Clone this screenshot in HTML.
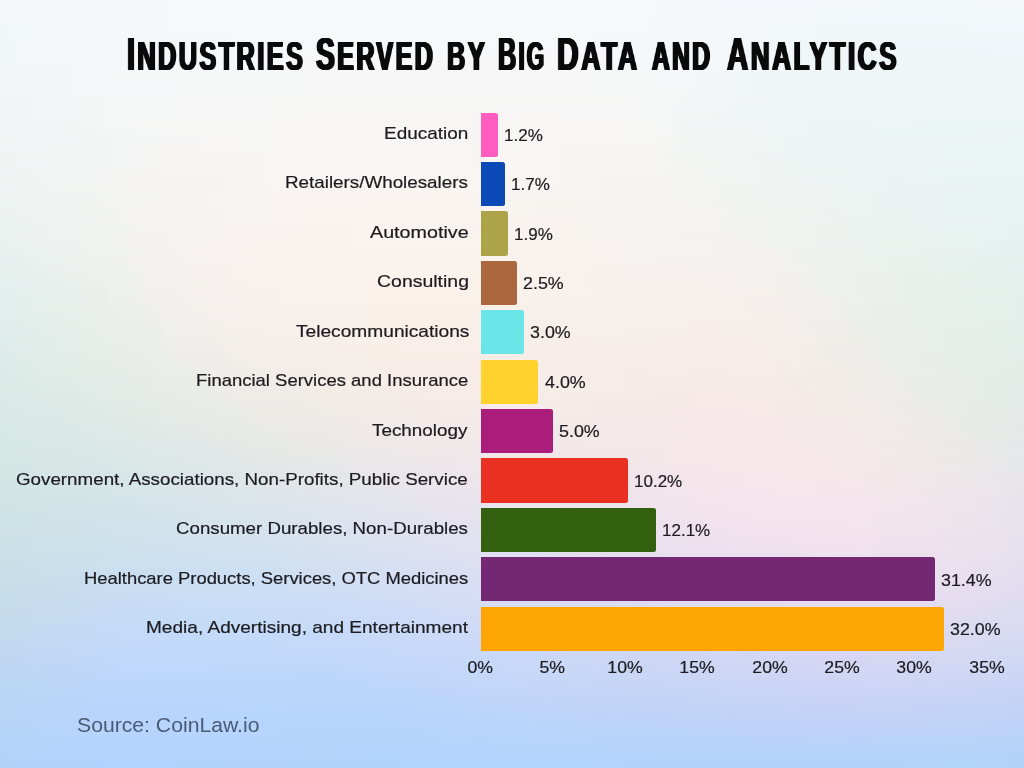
<!DOCTYPE html>
<html><head><meta charset="utf-8">
<style>
html,body{margin:0;padding:0;}
body{width:1024px;height:768px;overflow:hidden;position:relative;font-family:"Liberation Sans",sans-serif;
background:#eef0f2;
}
.bg div{position:absolute;left:0;width:1024px;height:8px;}
.tw{position:absolute;white-space:nowrap;will-change:transform;font-weight:bold;color:#0a0a0a;line-height:50px;letter-spacing:4px;transform-origin:0 0;}
.cap{font-size:46px;}
.sc{font-size:40.7px;}
.bar{position:absolute;left:480.5px;height:44.2px;border-radius:0 2.5px 2.5px 0;}
.lab{position:absolute;white-space:nowrap;will-change:transform;font-size:17px;line-height:24px;color:#1c1b20;transform-origin:0 0;-webkit-text-stroke:0.2px #1c1b20;}
.val{position:absolute;white-space:nowrap;will-change:transform;font-size:17px;line-height:24px;color:#1c1b20;transform-origin:0 0;-webkit-text-stroke:0.2px #1c1b20;}
.src{position:absolute;white-space:nowrap;will-change:transform;font-size:20.5px;line-height:28px;color:#4a5b75;transform-origin:0 0;}
</style></head><body>
<div class="bg"><div style="top:0px;background:linear-gradient(90deg,#f2f7f8 0.00%,#f4f7f9 6.25%,#f5f8fa 12.50%,#f6f8fa 18.75%,#f7f8fa 25.00%,#f7f8fb 31.25%,#f7f8fb 37.50%,#f7f8fb 43.75%,#f7f8fa 50.00%,#f7f8fb 56.25%,#f6f8fb 62.50%,#f5f8fb 68.75%,#f3f7fb 75.00%,#f3f7fa 81.25%,#f2f7fa 87.50%,#f2f7fa 93.75%,#f3f7fa 100.00%)"></div><div style="top:8px;background:linear-gradient(90deg,#f2f7f8 0.00%,#f4f7f9 6.25%,#f5f8f9 12.50%,#f6f8fa 18.75%,#f7f8fa 25.00%,#f7f8fa 31.25%,#f7f8fa 37.50%,#f7f8fa 43.75%,#f7f8fa 50.00%,#f7f8fa 56.25%,#f6f8fa 62.50%,#f5f7fa 68.75%,#f3f7fa 75.00%,#f2f7fa 81.25%,#f2f7fa 87.50%,#f2f7fa 93.75%,#f2f7fa 100.00%)"></div><div style="top:16px;background:linear-gradient(90deg,#f2f7f8 0.00%,#f4f7f9 6.25%,#f5f8f9 12.50%,#f6f8fa 18.75%,#f7f8fa 25.00%,#f7f8fa 31.25%,#f7f8fa 37.50%,#f7f8fa 43.75%,#f7f8fa 50.00%,#f7f8fa 56.25%,#f6f8fa 62.50%,#f4f7fa 68.75%,#f3f7fa 75.00%,#f2f7fa 81.25%,#f1f7fa 87.50%,#f2f7fa 93.75%,#f2f7fa 100.00%)"></div><div style="top:24px;background:linear-gradient(90deg,#f1f7f7 0.00%,#f3f7f8 6.25%,#f5f7f9 12.50%,#f6f8f9 18.75%,#f7f8f9 25.00%,#f7f8fa 31.25%,#f7f8fa 37.50%,#f7f8fa 43.75%,#f7f8f9 50.00%,#f7f8fa 56.25%,#f6f8fa 62.50%,#f4f7f9 68.75%,#f2f7f9 75.00%,#f1f7f9 81.25%,#f1f7f9 87.50%,#f1f7f9 93.75%,#f1f7fa 100.00%)"></div><div style="top:32px;background:linear-gradient(90deg,#f1f7f7 0.00%,#f3f7f8 6.25%,#f5f7f9 12.50%,#f6f7f9 18.75%,#f7f8f9 25.00%,#f7f8f9 31.25%,#f7f8f9 37.50%,#f7f8f9 43.75%,#f7f8f9 50.00%,#f7f8f9 56.25%,#f6f7f9 62.50%,#f4f7f9 68.75%,#f2f7f9 75.00%,#f1f7f9 81.25%,#f1f7f9 87.50%,#f1f7f9 93.75%,#f1f7f9 100.00%)"></div><div style="top:40px;background:linear-gradient(90deg,#f1f6f7 0.00%,#f3f7f8 6.25%,#f5f7f8 12.50%,#f6f7f9 18.75%,#f7f8f9 25.00%,#f7f8f9 31.25%,#f7f8f9 37.50%,#f7f8f9 43.75%,#f7f8f9 50.00%,#f7f8f9 56.25%,#f6f7f9 62.50%,#f4f7f9 68.75%,#f2f7f9 75.00%,#f1f6f8 81.25%,#f0f6f9 87.50%,#f0f6f9 93.75%,#f0f6f9 100.00%)"></div><div style="top:48px;background:linear-gradient(90deg,#f1f6f7 0.00%,#f3f7f8 6.25%,#f5f7f8 12.50%,#f6f7f8 18.75%,#f6f7f8 25.00%,#f7f8f8 31.25%,#f7f8f9 37.50%,#f7f8f9 43.75%,#f7f7f8 50.00%,#f7f7f9 56.25%,#f6f7f9 62.50%,#f4f7f8 68.75%,#f1f6f8 75.00%,#f0f6f8 81.25%,#f0f6f8 87.50%,#f0f6f8 93.75%,#f0f6f9 100.00%)"></div><div style="top:56px;background:linear-gradient(90deg,#f1f6f7 0.00%,#f3f7f8 6.25%,#f5f7f8 12.50%,#f6f7f8 18.75%,#f6f7f8 25.00%,#f7f7f8 31.25%,#f7f7f8 37.50%,#f7f7f8 43.75%,#f7f7f8 50.00%,#f7f7f8 56.25%,#f6f7f8 62.50%,#f3f7f8 68.75%,#f1f6f8 75.00%,#f0f6f8 81.25%,#eff6f8 87.50%,#f0f6f8 93.75%,#f0f6f8 100.00%)"></div><div style="top:64px;background:linear-gradient(90deg,#f1f6f7 0.00%,#f3f6f7 6.25%,#f5f7f8 12.50%,#f6f7f8 18.75%,#f6f7f8 25.00%,#f7f7f8 31.25%,#f7f7f8 37.50%,#f7f7f8 43.75%,#f7f7f8 50.00%,#f7f7f8 56.25%,#f6f7f8 62.50%,#f3f7f8 68.75%,#f1f6f7 75.00%,#eff6f7 81.25%,#eff6f8 87.50%,#eff6f8 93.75%,#eff6f8 100.00%)"></div><div style="top:72px;background:linear-gradient(90deg,#f1f6f6 0.00%,#f3f6f7 6.25%,#f5f7f7 12.50%,#f6f7f7 18.75%,#f6f7f7 25.00%,#f7f7f7 31.25%,#f7f7f7 37.50%,#f7f7f7 43.75%,#f7f7f7 50.00%,#f7f7f7 56.25%,#f6f7f7 62.50%,#f3f6f7 68.75%,#f0f6f7 75.00%,#eff6f7 81.25%,#eff6f7 87.50%,#eff6f7 93.75%,#eff6f8 100.00%)"></div><div style="top:80px;background:linear-gradient(90deg,#f1f6f6 0.00%,#f3f6f7 6.25%,#f5f6f7 12.50%,#f6f7f7 18.75%,#f6f7f7 25.00%,#f7f7f7 31.25%,#f7f7f7 37.50%,#f7f7f7 43.75%,#f7f7f7 50.00%,#f7f7f7 56.25%,#f6f7f7 62.50%,#f3f6f7 68.75%,#f0f6f6 75.00%,#eff6f6 81.25%,#eef6f7 87.50%,#eef6f7 93.75%,#eef6f7 100.00%)"></div><div style="top:88px;background:linear-gradient(90deg,#f1f6f6 0.00%,#f3f6f7 6.25%,#f5f6f7 12.50%,#f6f7f7 18.75%,#f6f7f7 25.00%,#f7f7f7 31.25%,#f7f7f7 37.50%,#f7f7f7 43.75%,#f7f7f7 50.00%,#f7f7f7 56.25%,#f6f7f7 62.50%,#f3f6f6 68.75%,#f0f6f6 75.00%,#eef5f6 81.25%,#eef5f6 87.50%,#eef5f7 93.75%,#eef5f7 100.00%)"></div><div style="top:96px;background:linear-gradient(90deg,#f1f5f6 0.00%,#f3f6f6 6.25%,#f5f6f6 12.50%,#f6f6f6 18.75%,#f6f7f6 25.00%,#f7f7f6 31.25%,#f7f7f6 37.50%,#f7f7f6 43.75%,#f7f7f6 50.00%,#f7f7f6 56.25%,#f6f6f6 62.50%,#f3f6f6 68.75%,#f0f6f5 75.00%,#eef5f6 81.25%,#eef5f6 87.50%,#edf5f6 93.75%,#edf5f7 100.00%)"></div><div style="top:104px;background:linear-gradient(90deg,#f1f5f5 0.00%,#f3f6f6 6.25%,#f5f6f6 12.50%,#f6f6f6 18.75%,#f6f6f6 25.00%,#f7f7f6 31.25%,#f7f7f6 37.50%,#f7f7f6 43.75%,#f7f6f6 50.00%,#f7f6f6 56.25%,#f6f6f6 62.50%,#f2f6f6 68.75%,#eff5f5 75.00%,#eef5f5 81.25%,#edf5f6 87.50%,#edf5f6 93.75%,#edf5f6 100.00%)"></div><div style="top:112px;background:linear-gradient(90deg,#f0f5f5 0.00%,#f3f6f6 6.25%,#f5f6f6 12.50%,#f6f6f6 18.75%,#f6f6f6 25.00%,#f7f6f5 31.25%,#f7f6f5 37.50%,#f7f6f5 43.75%,#f7f6f5 50.00%,#f7f6f6 56.25%,#f6f6f6 62.50%,#f2f6f5 68.75%,#eff5f5 75.00%,#eef5f5 81.25%,#edf5f5 87.50%,#edf5f6 93.75%,#edf5f6 100.00%)"></div><div style="top:120px;background:linear-gradient(90deg,#f0f5f5 0.00%,#f3f5f5 6.25%,#f5f6f5 12.50%,#f6f6f5 18.75%,#f6f6f5 25.00%,#f7f6f5 31.25%,#f8f6f5 37.50%,#f8f6f5 43.75%,#f8f6f5 50.00%,#f7f6f5 56.25%,#f6f6f5 62.50%,#f2f5f5 68.75%,#eff5f4 75.00%,#edf5f4 81.25%,#edf5f5 87.50%,#ecf5f5 93.75%,#ecf5f6 100.00%)"></div><div style="top:128px;background:linear-gradient(90deg,#f0f5f5 0.00%,#f3f5f5 6.25%,#f4f5f5 12.50%,#f6f6f5 18.75%,#f6f6f5 25.00%,#f7f6f5 31.25%,#f8f6f4 37.50%,#f8f6f4 43.75%,#f8f6f4 50.00%,#f7f6f5 56.25%,#f6f6f5 62.50%,#f2f5f4 68.75%,#eff5f4 75.00%,#edf5f4 81.25%,#ecf5f5 87.50%,#ecf5f5 93.75%,#ecf4f5 100.00%)"></div><div style="top:136px;background:linear-gradient(90deg,#f0f5f4 0.00%,#f2f5f5 6.25%,#f4f5f5 12.50%,#f6f5f5 18.75%,#f6f6f4 25.00%,#f7f6f4 31.25%,#f8f6f4 37.50%,#f8f6f4 43.75%,#f8f6f4 50.00%,#f7f6f4 56.25%,#f6f6f4 62.50%,#f2f5f4 68.75%,#eff5f3 75.00%,#edf4f4 81.25%,#ecf4f4 87.50%,#ecf4f5 93.75%,#ebf4f5 100.00%)"></div><div style="top:144px;background:linear-gradient(90deg,#eff4f4 0.00%,#f2f5f4 6.25%,#f4f5f4 12.50%,#f6f5f4 18.75%,#f6f6f4 25.00%,#f7f6f4 31.25%,#f8f6f4 37.50%,#f8f6f3 43.75%,#f8f6f3 50.00%,#f7f5f4 56.25%,#f6f5f4 62.50%,#f2f5f4 68.75%,#eff5f3 75.00%,#edf4f3 81.25%,#ecf4f4 87.50%,#ebf4f4 93.75%,#ebf4f5 100.00%)"></div><div style="top:152px;background:linear-gradient(90deg,#eff4f3 0.00%,#f2f5f4 6.25%,#f4f5f4 12.50%,#f6f5f4 18.75%,#f7f5f4 25.00%,#f8f5f3 31.25%,#f8f5f3 37.50%,#f8f5f3 43.75%,#f8f5f3 50.00%,#f7f5f3 56.25%,#f6f5f4 62.50%,#f2f5f3 68.75%,#eff4f3 75.00%,#edf4f3 81.25%,#ecf4f3 87.50%,#ebf4f4 93.75%,#ebf4f4 100.00%)"></div><div style="top:160px;background:linear-gradient(90deg,#eff4f3 0.00%,#f2f4f4 6.25%,#f4f5f4 12.50%,#f6f5f4 18.75%,#f7f5f3 25.00%,#f8f5f3 31.25%,#f8f5f3 37.50%,#f8f5f2 43.75%,#f8f5f2 50.00%,#f7f5f3 56.25%,#f6f5f3 62.50%,#f3f5f3 68.75%,#eff4f2 75.00%,#edf4f3 81.25%,#ebf4f3 87.50%,#ebf4f3 93.75%,#eaf4f4 100.00%)"></div><div style="top:168px;background:linear-gradient(90deg,#eef4f3 0.00%,#f1f4f3 6.25%,#f4f4f3 12.50%,#f6f5f3 18.75%,#f7f5f3 25.00%,#f8f5f3 31.25%,#f9f5f2 37.50%,#f8f5f2 43.75%,#f8f5f2 50.00%,#f7f5f2 56.25%,#f6f5f3 62.50%,#f3f4f3 68.75%,#eff4f2 75.00%,#edf4f2 81.25%,#ebf4f3 87.50%,#eaf4f3 93.75%,#eaf4f3 100.00%)"></div><div style="top:176px;background:linear-gradient(90deg,#eef3f2 0.00%,#f1f4f3 6.25%,#f4f4f3 12.50%,#f6f4f3 18.75%,#f7f5f2 25.00%,#f8f5f2 31.25%,#f9f5f2 37.50%,#f9f5f1 43.75%,#f8f5f1 50.00%,#f7f4f2 56.25%,#f6f4f2 62.50%,#f3f4f2 68.75%,#eff4f2 75.00%,#edf3f2 81.25%,#ebf3f2 87.50%,#eaf3f3 93.75%,#e9f3f3 100.00%)"></div><div style="top:184px;background:linear-gradient(90deg,#edf3f2 0.00%,#f1f4f2 6.25%,#f4f4f2 12.50%,#f6f4f2 18.75%,#f7f4f2 25.00%,#f8f5f2 31.25%,#f9f5f1 37.50%,#f9f5f1 43.75%,#f8f4f1 50.00%,#f7f4f1 56.25%,#f6f4f2 62.50%,#f3f4f2 68.75%,#f0f3f1 75.00%,#edf3f1 81.25%,#ebf3f2 87.50%,#eaf3f2 93.75%,#e9f3f3 100.00%)"></div><div style="top:192px;background:linear-gradient(90deg,#edf3f1 0.00%,#f0f3f2 6.25%,#f3f4f2 12.50%,#f6f4f2 18.75%,#f8f4f2 25.00%,#f9f4f1 31.25%,#f9f4f1 37.50%,#f9f4f0 43.75%,#f8f4f1 50.00%,#f7f4f1 56.25%,#f6f4f2 62.50%,#f3f4f2 68.75%,#f0f3f1 75.00%,#edf3f1 81.25%,#eaf3f1 87.50%,#e9f3f2 93.75%,#e9f3f2 100.00%)"></div><div style="top:200px;background:linear-gradient(90deg,#ecf3f1 0.00%,#f0f3f1 6.25%,#f3f3f2 12.50%,#f6f4f2 18.75%,#f8f4f1 25.00%,#f9f4f1 31.25%,#f9f4f0 37.50%,#f9f4f0 43.75%,#f8f4f0 50.00%,#f7f4f0 56.25%,#f6f4f1 62.50%,#f3f3f1 68.75%,#f0f3f1 75.00%,#edf3f1 81.25%,#eaf3f1 87.50%,#e9f3f1 93.75%,#e8f3f2 100.00%)"></div><div style="top:208px;background:linear-gradient(90deg,#ecf2f0 0.00%,#eff3f1 6.25%,#f3f3f1 12.50%,#f6f3f1 18.75%,#f8f4f1 25.00%,#f9f4f0 31.25%,#f9f4f0 37.50%,#f9f4ef 43.75%,#f8f4f0 50.00%,#f7f3f0 56.25%,#f6f4f1 62.50%,#f4f3f1 68.75%,#f0f3f0 75.00%,#edf2f0 81.25%,#eaf3f0 87.50%,#e9f3f1 93.75%,#e8f2f1 100.00%)"></div><div style="top:216px;background:linear-gradient(90deg,#ebf2f0 0.00%,#eff2f1 6.25%,#f3f3f1 12.50%,#f6f3f1 18.75%,#f8f4f1 25.00%,#f9f4f0 31.25%,#faf4ef 37.50%,#f9f4ef 43.75%,#f9f3ef 50.00%,#f7f3f0 56.25%,#f6f3f1 62.50%,#f4f3f1 68.75%,#f1f2f0 75.00%,#edf2f0 81.25%,#eaf2f0 87.50%,#e9f2f0 93.75%,#e8f2f1 100.00%)"></div><div style="top:224px;background:linear-gradient(90deg,#eaf2f0 0.00%,#eef2f0 6.25%,#f2f3f0 12.50%,#f6f3f0 18.75%,#f8f3f0 25.00%,#f9f3f0 31.25%,#faf3ef 37.50%,#f9f3ef 43.75%,#f9f3ef 50.00%,#f7f3ef 56.25%,#f6f3f0 62.50%,#f4f3f0 68.75%,#f1f2f0 75.00%,#edf2ef 81.25%,#eaf2ef 87.50%,#e8f2f0 93.75%,#e7f2f0 100.00%)"></div><div style="top:232px;background:linear-gradient(90deg,#eaf1ef 0.00%,#eef2f0 6.25%,#f2f2f0 12.50%,#f6f3f0 18.75%,#f8f3f0 25.00%,#f9f3ef 31.25%,#faf3ee 37.50%,#faf3ee 43.75%,#f9f3ee 50.00%,#f7f3ef 56.25%,#f6f3f0 62.50%,#f4f2f0 68.75%,#f1f2ef 75.00%,#edf2ef 81.25%,#eaf2ef 87.50%,#e8f2ef 93.75%,#e7f2f0 100.00%)"></div><div style="top:240px;background:linear-gradient(90deg,#e9f1ef 0.00%,#edf1ef 6.25%,#f2f2ef 12.50%,#f6f2f0 18.75%,#f8f3ef 25.00%,#f9f3ef 31.25%,#faf3ee 37.50%,#faf3ee 43.75%,#f9f3ee 50.00%,#f7f2ee 56.25%,#f6f2ef 62.50%,#f5f2ef 68.75%,#f1f2ef 75.00%,#edf1ef 81.25%,#eaf2ee 87.50%,#e8f2ef 93.75%,#e6f1ef 100.00%)"></div><div style="top:248px;background:linear-gradient(90deg,#e8f1ee 0.00%,#ecf1ef 6.25%,#f1f2ef 12.50%,#f6f2ef 18.75%,#f8f2ef 25.00%,#f9f3ee 31.25%,#faf3ed 37.50%,#faf3ed 43.75%,#f9f2ed 50.00%,#f7f2ee 56.25%,#f6f2ef 62.50%,#f5f2ef 68.75%,#f2f1ee 75.00%,#edf1ee 81.25%,#eaf1ee 87.50%,#e8f1ee 93.75%,#e6f1ef 100.00%)"></div><div style="top:256px;background:linear-gradient(90deg,#e7f0ee 0.00%,#ebf1ee 6.25%,#f1f1ee 12.50%,#f5f2ef 18.75%,#f8f2ef 25.00%,#f9f2ee 31.25%,#faf2ed 37.50%,#faf2ed 43.75%,#f9f2ed 50.00%,#f7f2ed 56.25%,#f6f2ef 62.50%,#f5f1ef 68.75%,#f2f1ee 75.00%,#edf1ee 81.25%,#eaf1ed 87.50%,#e7f1ee 93.75%,#e6f1ee 100.00%)"></div><div style="top:264px;background:linear-gradient(90deg,#e6f0ed 0.00%,#ebf0ee 6.25%,#f0f1ee 12.50%,#f5f1ee 18.75%,#f8f2ee 25.00%,#f9f2ed 31.25%,#faf2ed 37.50%,#faf2ec 43.75%,#f9f2ec 50.00%,#f8f2ed 56.25%,#f6f1ee 62.50%,#f5f1ee 68.75%,#f3f1ee 75.00%,#eef1ed 81.25%,#eaf1ed 87.50%,#e7f1ed 93.75%,#e5f1ee 100.00%)"></div><div style="top:272px;background:linear-gradient(90deg,#e5f0ed 0.00%,#eaf0ed 6.25%,#eff1ee 12.50%,#f5f1ee 18.75%,#f8f2ee 25.00%,#f9f2ed 31.25%,#faf2ec 37.50%,#faf2ec 43.75%,#f9f1ec 50.00%,#f8f1ed 56.25%,#f6f1ee 62.50%,#f6f1ee 68.75%,#f3f0ed 75.00%,#eef0ed 81.25%,#eaf0ec 87.50%,#e7f1ec 93.75%,#e5f0ed 100.00%)"></div><div style="top:280px;background:linear-gradient(90deg,#e4efed 0.00%,#e9f0ed 6.25%,#eff0ed 12.50%,#f4f1ed 18.75%,#f8f1ee 25.00%,#f9f1ed 31.25%,#faf1ec 37.50%,#faf1eb 43.75%,#f9f1eb 50.00%,#f8f1ec 56.25%,#f6f1ed 62.50%,#f6f0ed 68.75%,#f3f0ed 75.00%,#eef0ec 81.25%,#eaf0ec 87.50%,#e7f0ec 93.75%,#e5f0ed 100.00%)"></div><div style="top:288px;background:linear-gradient(90deg,#e3efec 0.00%,#e8efec 6.25%,#eef0ed 12.50%,#f4f0ed 18.75%,#f7f1ed 25.00%,#f9f1ec 31.25%,#faf1eb 37.50%,#faf1eb 43.75%,#f9f1eb 50.00%,#f8f1ec 56.25%,#f7f0ec 62.50%,#f6f0ed 68.75%,#f4f0ec 75.00%,#eef0ec 81.25%,#eaf0eb 87.50%,#e7f0eb 93.75%,#e5f0ec 100.00%)"></div><div style="top:296px;background:linear-gradient(90deg,#e2efec 0.00%,#e7efec 6.25%,#eeefec 12.50%,#f3f0ed 18.75%,#f7f1ed 25.00%,#f9f1ec 31.25%,#faf1eb 37.50%,#faf1ea 43.75%,#f9f1eb 50.00%,#f8f0eb 56.25%,#f7f0ec 62.50%,#f7efec 68.75%,#f4efec 75.00%,#efefeb 81.25%,#eaf0eb 87.50%,#e6f0eb 93.75%,#e4efec 100.00%)"></div><div style="top:304px;background:linear-gradient(90deg,#e2eeeb 0.00%,#e7efeb 6.25%,#edefec 12.50%,#f3f0ec 18.75%,#f7f0ec 25.00%,#f8f0eb 31.25%,#f9f0ea 37.50%,#faf0ea 43.75%,#f9f0ea 50.00%,#f7f0eb 56.25%,#f7f0eb 62.50%,#f7efec 68.75%,#f4efec 75.00%,#efefeb 81.25%,#eaefeb 87.50%,#e6efea 93.75%,#e4efeb 100.00%)"></div><div style="top:312px;background:linear-gradient(90deg,#e1eeeb 0.00%,#e6eeeb 6.25%,#ecefeb 12.50%,#f2efec 18.75%,#f6f0ec 25.00%,#f8f0eb 31.25%,#f9f0ea 37.50%,#faf0ea 43.75%,#f9f0ea 50.00%,#f7f0ea 56.25%,#f7efeb 62.50%,#f7efeb 68.75%,#f5eeeb 75.00%,#efefeb 81.25%,#eaefea 87.50%,#e6efea 93.75%,#e4efeb 100.00%)"></div><div style="top:320px;background:linear-gradient(90deg,#e0edea 0.00%,#e5eeea 6.25%,#ebeeeb 12.50%,#f1efeb 18.75%,#f6f0ec 25.00%,#f8f0ea 31.25%,#f9f0ea 37.50%,#f9f0e9 43.75%,#f9efea 50.00%,#f7efea 56.25%,#f6efea 62.50%,#f7eeeb 68.75%,#f5eeeb 75.00%,#efeeea 81.25%,#eaefea 87.50%,#e6efea 93.75%,#e4eeea 100.00%)"></div><div style="top:328px;background:linear-gradient(90deg,#dfedea 0.00%,#e4edea 6.25%,#eaeeea 12.50%,#f1efeb 18.75%,#f5efeb 25.00%,#f7efea 31.25%,#f8efe9 37.50%,#f9efe9 43.75%,#f9efe9 50.00%,#f7efea 56.25%,#f6eeea 62.50%,#f7eeeb 68.75%,#f5eeeb 75.00%,#f0eeea 81.25%,#eaeee9 87.50%,#e6eee9 93.75%,#e3eeea 100.00%)"></div><div style="top:336px;background:linear-gradient(90deg,#deede9 0.00%,#e3ede9 6.25%,#eaeeea 12.50%,#f0eeea 18.75%,#f4efeb 25.00%,#f6efe9 31.25%,#f8efe9 37.50%,#f9efe9 43.75%,#f8efe9 50.00%,#f7eee9 56.25%,#f6eeea 62.50%,#f7edea 68.75%,#f5edea 75.00%,#f0eee9 81.25%,#ebeee9 87.50%,#e6eee9 93.75%,#e3eee9 100.00%)"></div><div style="top:344px;background:linear-gradient(90deg,#deece9 0.00%,#e3ede9 6.25%,#e9ede9 12.50%,#efeeea 18.75%,#f4eeea 25.00%,#f6eee9 31.25%,#f8eee8 37.50%,#f9eee9 43.75%,#f8eee9 50.00%,#f7eee9 56.25%,#f6ede9 62.50%,#f7edea 68.75%,#f6edea 75.00%,#f0ede9 81.25%,#ebeee9 87.50%,#e6eee8 93.75%,#e3ede9 100.00%)"></div><div style="top:352px;background:linear-gradient(90deg,#ddece8 0.00%,#e2ece8 6.25%,#e8ede9 12.50%,#eeede9 18.75%,#f3eeea 25.00%,#f5eee8 31.25%,#f7eee8 37.50%,#f8eee8 43.75%,#f8eee9 50.00%,#f7eee9 56.25%,#f6ede9 62.50%,#f7ecea 68.75%,#f6edea 75.00%,#f0ede9 81.25%,#ebede8 87.50%,#e6ede8 93.75%,#e3ede9 100.00%)"></div><div style="top:360px;background:linear-gradient(90deg,#dcece8 0.00%,#e1ece8 6.25%,#e7ece8 12.50%,#edede9 18.75%,#f2eee9 25.00%,#f4eee8 31.25%,#f7ede8 37.50%,#f8ede8 43.75%,#f8ede8 50.00%,#f7ede8 56.25%,#f6ece8 62.50%,#f7ece9 68.75%,#f6ece9 75.00%,#f1ede9 81.25%,#ebede8 87.50%,#e6ede8 93.75%,#e3ede8 100.00%)"></div><div style="top:368px;background:linear-gradient(90deg,#dcebe7 0.00%,#e0ece7 6.25%,#e6ece8 12.50%,#ecede9 18.75%,#f1ede9 25.00%,#f3ede8 31.25%,#f6ede8 37.50%,#f8ede8 43.75%,#f7ede8 50.00%,#f6ede8 56.25%,#f5ece8 62.50%,#f7ebe9 68.75%,#f6ece9 75.00%,#f1ece8 81.25%,#ecede8 87.50%,#e7ede7 93.75%,#e3ece8 100.00%)"></div><div style="top:376px;background:linear-gradient(90deg,#dbebe7 0.00%,#e0ebe7 6.25%,#e5ebe8 12.50%,#ebece8 18.75%,#f0ede8 25.00%,#f3ede7 31.25%,#f5ede8 37.50%,#f7ede8 43.75%,#f7ede8 50.00%,#f6ece8 56.25%,#f5ebe8 62.50%,#f7ebe9 68.75%,#f6ebe9 75.00%,#f1ece8 81.25%,#ecece8 87.50%,#e7ece7 93.75%,#e3ece8 100.00%)"></div><div style="top:384px;background:linear-gradient(90deg,#daebe6 0.00%,#dfebe7 6.25%,#e4ebe7 12.50%,#eaece8 18.75%,#efece8 25.00%,#f2ece7 31.25%,#f5ece7 37.50%,#f7ece8 43.75%,#f7ece8 50.00%,#f6ece8 56.25%,#f5ebe8 62.50%,#f7ebe9 68.75%,#f6ebe9 75.00%,#f2ece8 81.25%,#ecece8 87.50%,#e7ece7 93.75%,#e3ebe8 100.00%)"></div><div style="top:392px;background:linear-gradient(90deg,#daeae6 0.00%,#deeae6 6.25%,#e3ebe7 12.50%,#e9ebe7 18.75%,#eeece7 25.00%,#f1ece7 31.25%,#f4ece7 37.50%,#f6ece8 43.75%,#f6ece8 50.00%,#f5ece8 56.25%,#f5ebe8 62.50%,#f7eae9 68.75%,#f7ebe9 75.00%,#f2ebe8 81.25%,#edece8 87.50%,#e7ece7 93.75%,#e3ebe8 100.00%)"></div><div style="top:400px;background:linear-gradient(90deg,#d9eae6 0.00%,#ddeae6 6.25%,#e2eae7 12.50%,#e8ebe7 18.75%,#ecebe7 25.00%,#efebe6 31.25%,#f3ebe7 37.50%,#f5ebe8 43.75%,#f6ebe8 50.00%,#f5ebe8 56.25%,#f5eae8 62.50%,#f7eae9 68.75%,#f7eae9 75.00%,#f3ebe8 81.25%,#edebe8 87.50%,#e8ebe7 93.75%,#e3ebe8 100.00%)"></div><div style="top:408px;background:linear-gradient(90deg,#d8e9e5 0.00%,#dceae6 6.25%,#e1eae6 12.50%,#e6eae7 18.75%,#ebebe6 25.00%,#eeebe6 31.25%,#f2ebe7 37.50%,#f5ebe8 43.75%,#f5ebe9 50.00%,#f5ebe8 56.25%,#f5eae8 62.50%,#f7e9e9 68.75%,#f7eae9 75.00%,#f3ebe8 81.25%,#eeebe8 87.50%,#e8ebe7 93.75%,#e4eae8 100.00%)"></div><div style="top:416px;background:linear-gradient(90deg,#d8e9e5 0.00%,#dbe9e5 6.25%,#e0e9e6 12.50%,#e5eae7 18.75%,#eaeae6 25.00%,#edeae6 31.25%,#f1eae8 37.50%,#f4eae8 43.75%,#f4eae9 50.00%,#f4eae8 56.25%,#f4e9e8 62.50%,#f7e9e9 68.75%,#f7e9e9 75.00%,#f4eae9 81.25%,#efebe8 87.50%,#e9eae7 93.75%,#e4eae8 100.00%)"></div><div style="top:424px;background:linear-gradient(90deg,#d7e9e5 0.00%,#dae9e5 6.25%,#dfe9e6 12.50%,#e4e9e7 18.75%,#e9eae6 25.00%,#eceae6 31.25%,#f0eae8 37.50%,#f3eae9 43.75%,#f4eae9 50.00%,#f4e9e9 56.25%,#f4e9e9 62.50%,#f7e8e9 68.75%,#f7e9e9 75.00%,#f4eae9 81.25%,#efeae8 87.50%,#e9eae7 93.75%,#e4e9e8 100.00%)"></div><div style="top:432px;background:linear-gradient(90deg,#d6e8e5 0.00%,#d9e8e5 6.25%,#dee9e6 12.50%,#e3e9e7 18.75%,#e7e9e6 25.00%,#ebe9e6 31.25%,#efe9e8 37.50%,#f2e9e9 43.75%,#f3e9e9 50.00%,#f3e9e9 56.25%,#f4e8e9 62.50%,#f6e8ea 68.75%,#f7e9ea 75.00%,#f5e9e9 81.25%,#f0eae8 87.50%,#eaeae7 93.75%,#e5e9e8 100.00%)"></div><div style="top:440px;background:linear-gradient(90deg,#d5e8e5 0.00%,#d8e8e5 6.25%,#dde8e6 12.50%,#e1e8e7 18.75%,#e6e9e6 25.00%,#eae9e7 31.25%,#eee9e8 37.50%,#f1e8e9 43.75%,#f2e8ea 50.00%,#f3e8e9 56.25%,#f4e8e9 62.50%,#f6e7ea 68.75%,#f8e8ea 75.00%,#f5e9e9 81.25%,#f0e9e8 87.50%,#eae9e8 93.75%,#e5e8e8 100.00%)"></div><div style="top:448px;background:linear-gradient(90deg,#d5e7e4 0.00%,#d8e7e5 6.25%,#dbe8e6 12.50%,#e0e8e7 18.75%,#e5e8e6 25.00%,#e8e8e7 31.25%,#ece8e9 37.50%,#f0e8ea 43.75%,#f1e8ea 50.00%,#f2e8e9 56.25%,#f3e7e9 62.50%,#f6e7ea 68.75%,#f8e8ea 75.00%,#f5e8ea 81.25%,#f1e9e9 87.50%,#ebe9e8 93.75%,#e6e8e9 100.00%)"></div><div style="top:456px;background:linear-gradient(90deg,#d4e7e4 0.00%,#d7e7e5 6.25%,#dae7e7 12.50%,#dfe7e7 18.75%,#e3e8e6 25.00%,#e7e8e8 31.25%,#ebe7e9 37.50%,#eee7ea 43.75%,#f0e7ea 50.00%,#f1e7ea 56.25%,#f3e7ea 62.50%,#f6e7ea 68.75%,#f8e7ea 75.00%,#f6e8ea 81.25%,#f1e8e9 87.50%,#ebe8e8 93.75%,#e6e7e9 100.00%)"></div><div style="top:464px;background:linear-gradient(90deg,#d3e6e4 0.00%,#d6e6e5 6.25%,#d9e7e7 12.50%,#dde7e7 18.75%,#e2e7e7 25.00%,#e6e7e8 31.25%,#eae7ea 37.50%,#ede7eb 43.75%,#efe7eb 50.00%,#f0e7ea 56.25%,#f2e6ea 62.50%,#f6e6eb 68.75%,#f8e7eb 75.00%,#f6e8ea 81.25%,#f2e8e9 87.50%,#ece8e9 93.75%,#e6e7e9 100.00%)"></div><div style="top:472px;background:linear-gradient(90deg,#d2e6e4 0.00%,#d5e6e5 6.25%,#d8e6e7 12.50%,#dce6e8 18.75%,#e0e7e7 25.00%,#e4e6e9 31.25%,#e8e6ea 37.50%,#ece6eb 43.75%,#eee6eb 50.00%,#efe6eb 56.25%,#f2e6ea 62.50%,#f5e6eb 68.75%,#f7e6eb 75.00%,#f6e7eb 81.25%,#f2e7ea 87.50%,#ece7e9 93.75%,#e7e6ea 100.00%)"></div><div style="top:480px;background:linear-gradient(90deg,#d1e5e4 0.00%,#d4e5e6 6.25%,#d7e6e8 12.50%,#dbe6e8 18.75%,#dfe6e8 25.00%,#e3e6e9 31.25%,#e7e6eb 37.50%,#ebe6ec 43.75%,#ede5ec 50.00%,#efe5eb 56.25%,#f1e5eb 62.50%,#f5e5eb 68.75%,#f7e6eb 75.00%,#f6e6eb 81.25%,#f2e7ea 87.50%,#ede6e9 93.75%,#e7e6ea 100.00%)"></div><div style="top:488px;background:linear-gradient(90deg,#d1e4e5 0.00%,#d3e5e6 6.25%,#d5e5e8 12.50%,#d9e5e9 18.75%,#dde6e9 25.00%,#e1e5ea 31.25%,#e6e5ec 37.50%,#e9e5ed 43.75%,#ece5ec 50.00%,#eee5eb 56.25%,#f0e4eb 62.50%,#f4e5eb 68.75%,#f7e5ec 75.00%,#f6e6eb 81.25%,#f2e6ea 87.50%,#ede6ea 93.75%,#e7e5ea 100.00%)"></div><div style="top:496px;background:linear-gradient(90deg,#d0e4e5 0.00%,#d2e4e6 6.25%,#d4e5e9 12.50%,#d8e5ea 18.75%,#dce5ea 25.00%,#e0e5eb 31.25%,#e4e4ec 37.50%,#e8e4ed 43.75%,#eae4ed 50.00%,#ece4ec 56.25%,#efe4ec 62.50%,#f4e4ec 68.75%,#f6e5ec 75.00%,#f6e5ec 81.25%,#f2e6eb 87.50%,#ede5ea 93.75%,#e7e4eb 100.00%)"></div><div style="top:504px;background:linear-gradient(90deg,#cfe3e5 0.00%,#d1e4e7 6.25%,#d3e4e9 12.50%,#d7e4eb 18.75%,#dae4eb 25.00%,#dee4ec 31.25%,#e3e4ed 37.50%,#e7e4ee 43.75%,#e9e4ed 50.00%,#ebe3ec 56.25%,#eee3ec 62.50%,#f3e3ec 68.75%,#f6e4ec 75.00%,#f5e5ec 81.25%,#f2e5eb 87.50%,#ede5eb 93.75%,#e7e4eb 100.00%)"></div><div style="top:512px;background:linear-gradient(90deg,#cee3e5 0.00%,#d0e3e7 6.25%,#d2e3ea 12.50%,#d5e4eb 18.75%,#d8e4ec 25.00%,#dce4ed 31.25%,#e1e3ee 37.50%,#e5e3ef 43.75%,#e8e3ee 50.00%,#eae3ed 56.25%,#ede3ec 62.50%,#f2e3ec 68.75%,#f5e3ed 75.00%,#f5e4ed 81.25%,#f2e4ec 87.50%,#ede4eb 93.75%,#e7e3ec 100.00%)"></div><div style="top:520px;background:linear-gradient(90deg,#cde2e5 0.00%,#cfe2e8 6.25%,#d1e3eb 12.50%,#d4e3ec 18.75%,#d7e3ed 25.00%,#dbe3ee 31.25%,#dfe3ef 37.50%,#e4e2ef 43.75%,#e6e2ee 50.00%,#e9e2ed 56.25%,#ece2ed 62.50%,#f1e2ed 68.75%,#f4e3ed 75.00%,#f4e3ed 81.25%,#f1e4ec 87.50%,#ede4eb 93.75%,#e7e3ec 100.00%)"></div><div style="top:528px;background:linear-gradient(90deg,#cde1e6 0.00%,#cee2e8 6.25%,#d0e2eb 12.50%,#d3e3ed 18.75%,#d5e3ee 25.00%,#d9e2ef 31.25%,#dee2f0 37.50%,#e2e2f0 43.75%,#e5e2ef 50.00%,#e7e1ee 56.25%,#ebe1ed 62.50%,#efe2ed 68.75%,#f3e2ed 75.00%,#f3e3ed 81.25%,#f1e3ec 87.50%,#ede3ec 93.75%,#e7e2ec 100.00%)"></div><div style="top:536px;background:linear-gradient(90deg,#cce1e6 0.00%,#cde1e9 6.25%,#cfe2ec 12.50%,#d1e2ee 18.75%,#d4e2ef 25.00%,#d8e2ef 31.25%,#dce1f0 37.50%,#e1e1f1 43.75%,#e3e1f0 50.00%,#e6e1ee 56.25%,#eae1ee 62.50%,#eee1ee 68.75%,#f1e1ee 75.00%,#f2e2ee 81.25%,#f0e2ed 87.50%,#ece2ec 93.75%,#e6e1ed 100.00%)"></div><div style="top:544px;background:linear-gradient(90deg,#cbe0e6 0.00%,#cce1e9 6.25%,#cee1ed 12.50%,#d0e1ef 18.75%,#d2e2f0 25.00%,#d6e1f0 31.25%,#dbe1f1 37.50%,#dfe1f1 43.75%,#e2e0f0 50.00%,#e5e0ef 56.25%,#e8e0ee 62.50%,#ede0ee 68.75%,#f0e1ee 75.00%,#f1e1ee 81.25%,#efe2ed 87.50%,#ece2ed 93.75%,#e6e1ed 100.00%)"></div><div style="top:552px;background:linear-gradient(90deg,#cae0e7 0.00%,#cbe0ea 6.25%,#cde0ee 12.50%,#cfe1f0 18.75%,#d1e1f1 25.00%,#d4e1f1 31.25%,#d9e0f2 37.50%,#dde0f2 43.75%,#e0e0f1 50.00%,#e3dfef 56.25%,#e7dfef 62.50%,#ebe0ee 68.75%,#eee0ee 75.00%,#f0e1ee 81.25%,#eee1ee 87.50%,#ebe1ed 93.75%,#e5e0ee 100.00%)"></div><div style="top:560px;background:linear-gradient(90deg,#c9dfe7 0.00%,#cbdfeb 6.25%,#cce0ef 12.50%,#cde0f1 18.75%,#cfe0f2 25.00%,#d3e0f2 31.25%,#d7e0f3 37.50%,#dcdff3 43.75%,#dfdff1 50.00%,#e1dff0 56.25%,#e5dfef 62.50%,#e9dfef 68.75%,#eddfef 75.00%,#eee0ef 81.25%,#ede0ee 87.50%,#eae0ee 93.75%,#e4dfee 100.00%)"></div><div style="top:568px;background:linear-gradient(90deg,#c9dee8 0.00%,#cadfec 6.25%,#cbdff0 12.50%,#ccdff2 18.75%,#cee0f3 25.00%,#d1dff3 31.25%,#d5dff3 37.50%,#dadff3 43.75%,#dddef2 50.00%,#e0def0 56.25%,#e3deef 62.50%,#e8deef 68.75%,#ebdfef 75.00%,#eddfef 81.25%,#ece0ee 87.50%,#e9e0ee 93.75%,#e3dfef 100.00%)"></div><div style="top:576px;background:linear-gradient(90deg,#c8dee8 0.00%,#c9deec 6.25%,#cadef1 12.50%,#cbdff3 18.75%,#cddff4 25.00%,#d0dff4 31.25%,#d4def4 37.50%,#d8def4 43.75%,#dbdef2 50.00%,#dedef1 56.25%,#e2ddf0 62.50%,#e6def0 68.75%,#e9deef 75.00%,#ebdeef 81.25%,#eadfef 87.50%,#e8dfef 93.75%,#e2def0 100.00%)"></div><div style="top:584px;background:linear-gradient(90deg,#c7dde9 0.00%,#c8dded 6.25%,#c9def2 12.50%,#cadef4 18.75%,#cbdef5 25.00%,#cedef5 31.25%,#d2def5 37.50%,#d6ddf4 43.75%,#d9ddf3 50.00%,#dcddf1 56.25%,#e0ddf0 62.50%,#e4ddf0 68.75%,#e7ddf0 75.00%,#e9ddf0 81.25%,#e9deef 87.50%,#e6deef 93.75%,#e1ddf0 100.00%)"></div><div style="top:592px;background:linear-gradient(90deg,#c6ddea 0.00%,#c7ddee 6.25%,#c8ddf3 12.50%,#c9def5 18.75%,#cadef5 25.00%,#ccddf5 31.25%,#d0ddf5 37.50%,#d4ddf5 43.75%,#d8ddf3 50.00%,#dbdcf2 56.25%,#dedcf1 62.50%,#e2dcf0 68.75%,#e5dcf0 75.00%,#e7ddf0 81.25%,#e7ddf0 87.50%,#e5def0 93.75%,#e0dcf1 100.00%)"></div><div style="top:600px;background:linear-gradient(90deg,#c5dcea 0.00%,#c6dcef 6.25%,#c7dcf4 12.50%,#c8ddf6 18.75%,#c9ddf6 25.00%,#cbddf6 31.25%,#cedcf6 37.50%,#d3dcf5 43.75%,#d6dcf4 50.00%,#d9dcf2 56.25%,#dcdbf1 62.50%,#e0dcf1 68.75%,#e3dcf1 75.00%,#e5dcf0 81.25%,#e5dcf0 87.50%,#e3ddf0 93.75%,#dedcf1 100.00%)"></div><div style="top:608px;background:linear-gradient(90deg,#c4dbeb 0.00%,#c6dbf0 6.25%,#c6dcf5 12.50%,#c6dcf7 18.75%,#c7dcf7 25.00%,#c9dcf7 31.25%,#cddcf7 37.50%,#d1dcf6 43.75%,#d4dbf4 50.00%,#d7dbf3 56.25%,#dadbf2 62.50%,#dddbf1 68.75%,#e1dbf1 75.00%,#e3dbf1 81.25%,#e3dcf0 87.50%,#e1dcf1 93.75%,#dcdbf1 100.00%)"></div><div style="top:616px;background:linear-gradient(90deg,#c4dbec 0.00%,#c5dbf1 6.25%,#c5dbf6 12.50%,#c5dcf7 18.75%,#c6dcf7 25.00%,#c8dbf7 31.25%,#cbdbf7 37.50%,#cfdbf6 43.75%,#d2dbf5 50.00%,#d5daf3 56.25%,#d8daf2 62.50%,#dbdaf2 68.75%,#dfdaf1 75.00%,#e1daf1 81.25%,#e1dbf1 87.50%,#dfdcf1 93.75%,#dbdbf2 100.00%)"></div><div style="top:624px;background:linear-gradient(90deg,#c3daed 0.00%,#c4daf2 6.25%,#c4daf7 12.50%,#c4dbf8 18.75%,#c5dbf8 25.00%,#c6dbf8 31.25%,#c9daf8 37.50%,#cddaf7 43.75%,#d0daf5 50.00%,#d3daf4 56.25%,#d6d9f2 62.50%,#d9daf2 68.75%,#ddd9f2 75.00%,#dfd9f2 81.25%,#dfdaf1 87.50%,#dddbf1 93.75%,#d9daf2 100.00%)"></div><div style="top:632px;background:linear-gradient(90deg,#c2daee 0.00%,#c3daf3 6.25%,#c3daf8 12.50%,#c3daf9 18.75%,#c3daf9 25.00%,#c5daf8 31.25%,#c7daf8 37.50%,#cbdaf7 43.75%,#cedaf6 50.00%,#d1d9f4 56.25%,#d4d9f3 62.50%,#d7d9f3 68.75%,#dad9f2 75.00%,#ddd9f2 81.25%,#ddd9f2 87.50%,#dbdaf2 93.75%,#d7daf2 100.00%)"></div><div style="top:640px;background:linear-gradient(90deg,#c1d9ef 0.00%,#c2d9f4 6.25%,#c2d9f9 12.50%,#c2daf9 18.75%,#c2daf9 25.00%,#c3daf9 31.25%,#c6d9f9 37.50%,#c9d9f8 43.75%,#cdd9f6 50.00%,#cfd9f5 56.25%,#d1d8f3 62.50%,#d4d8f3 68.75%,#d8d8f3 75.00%,#dad8f2 81.25%,#dad9f2 87.50%,#d9daf2 93.75%,#d5d9f3 100.00%)"></div><div style="top:648px;background:linear-gradient(90deg,#c0d9f0 0.00%,#c1d8f5 6.25%,#c1d9fa 12.50%,#c1d9fa 18.75%,#c1d9fa 25.00%,#c2d9f9 31.25%,#c4d9f9 37.50%,#c8d9f8 43.75%,#cbd9f7 50.00%,#cdd8f5 56.25%,#cfd8f4 62.50%,#d2d8f4 68.75%,#d5d7f3 75.00%,#d8d7f3 81.25%,#d8d8f3 87.50%,#d6d9f3 93.75%,#d3d9f3 100.00%)"></div><div style="top:656px;background:linear-gradient(90deg,#bfd8f0 0.00%,#c0d8f6 6.25%,#c0d8fa 12.50%,#c0d9fb 18.75%,#c0d9fa 25.00%,#c0d8fa 31.25%,#c2d8fa 37.50%,#c6d8f9 43.75%,#c9d8f7 50.00%,#cbd8f6 56.25%,#cdd7f4 62.50%,#d0d7f4 68.75%,#d3d7f4 75.00%,#d5d6f3 81.25%,#d5d7f3 87.50%,#d4d8f3 93.75%,#d0d8f3 100.00%)"></div><div style="top:664px;background:linear-gradient(90deg,#bed8f1 0.00%,#bfd7f7 6.25%,#bfd8fb 12.50%,#bfd8fb 18.75%,#bfd8fa 25.00%,#bfd8fa 31.25%,#c1d8fa 37.50%,#c4d8f9 43.75%,#c7d8f8 50.00%,#c9d7f6 56.25%,#cbd6f5 62.50%,#cdd7f5 68.75%,#d1d6f4 75.00%,#d3d6f4 81.25%,#d3d6f4 87.50%,#d1d7f4 93.75%,#ced7f4 100.00%)"></div><div style="top:672px;background:linear-gradient(90deg,#bdd7f2 0.00%,#bed7f8 6.25%,#bed7fb 12.50%,#bed7fc 18.75%,#bed8fb 25.00%,#bdd7fa 31.25%,#bfd7fa 37.50%,#c2d7f9 43.75%,#c5d7f8 50.00%,#c7d7f6 56.25%,#c9d6f5 62.50%,#cbd6f5 68.75%,#ced6f5 75.00%,#d0d5f4 81.25%,#d0d6f4 87.50%,#cfd7f4 93.75%,#ccd6f4 100.00%)"></div><div style="top:680px;background:linear-gradient(90deg,#bcd7f3 0.00%,#bdd6f8 6.25%,#bdd7fc 12.50%,#bdd7fc 18.75%,#bcd7fb 25.00%,#bcd7fb 31.25%,#bed7fb 37.50%,#c1d7fa 43.75%,#c3d7f9 50.00%,#c5d6f7 56.25%,#c7d5f5 62.50%,#c9d6f6 68.75%,#ccd5f5 75.00%,#ced4f5 81.25%,#ced5f5 87.50%,#ccd6f4 93.75%,#cad5f5 100.00%)"></div><div style="top:688px;background:linear-gradient(90deg,#bbd6f4 0.00%,#bcd6f9 6.25%,#bcd6fc 12.50%,#bcd6fc 18.75%,#bbd7fb 25.00%,#bbd6fb 31.25%,#bcd6fb 37.50%,#bfd6fa 43.75%,#c2d6f9 50.00%,#c3d6f7 56.25%,#c4d5f6 62.50%,#c6d5f6 68.75%,#c9d5f6 75.00%,#cbd4f5 81.25%,#cbd5f5 87.50%,#cad5f5 93.75%,#c7d4f5 100.00%)"></div><div style="top:696px;background:linear-gradient(90deg,#bad6f4 0.00%,#bbd5f9 6.25%,#bbd6fd 12.50%,#bbd6fd 18.75%,#bad6fb 25.00%,#bad6fb 31.25%,#bbd6fb 37.50%,#bdd6fa 43.75%,#c0d6f9 50.00%,#c1d5f8 56.25%,#c2d4f6 62.50%,#c4d5f6 68.75%,#c7d4f6 75.00%,#c8d3f6 81.25%,#c8d4f6 87.50%,#c7d5f5 93.75%,#c5d4f6 100.00%)"></div><div style="top:704px;background:linear-gradient(90deg,#b9d5f5 0.00%,#bad5fa 6.25%,#bad5fd 12.50%,#bad5fd 18.75%,#b9d6fc 25.00%,#b9d5fb 31.25%,#b9d5fb 37.50%,#bcd5fb 43.75%,#bed5fa 50.00%,#bfd5f8 56.25%,#c0d4f7 62.50%,#c2d4f7 68.75%,#c4d4f7 75.00%,#c6d3f6 81.25%,#c6d4f6 87.50%,#c4d4f6 93.75%,#c2d3f6 100.00%)"></div><div style="top:712px;background:linear-gradient(90deg,#b8d5f6 0.00%,#b9d5fa 6.25%,#b9d5fd 12.50%,#b8d5fd 18.75%,#b8d5fc 25.00%,#b8d5fb 31.25%,#b8d5fb 37.50%,#bad5fb 43.75%,#bcd5fa 50.00%,#bdd5f9 56.25%,#bed3f7 62.50%,#bfd4f7 68.75%,#c2d3f7 75.00%,#c3d3f7 81.25%,#c3d3f7 87.50%,#c2d4f6 93.75%,#c0d3f6 100.00%)"></div><div style="top:720px;background:linear-gradient(90deg,#b7d4f6 0.00%,#b8d4fb 6.25%,#b8d4fe 12.50%,#b7d4fd 18.75%,#b7d5fc 25.00%,#b7d4fb 31.25%,#b7d4fb 37.50%,#b9d5fb 43.75%,#bad5fb 50.00%,#bcd4fa 56.25%,#bcd3f8 62.50%,#bdd3f8 68.75%,#bfd3f8 75.00%,#c0d2f8 81.25%,#c0d3f7 87.50%,#bfd4f7 93.75%,#bed3f7 100.00%)"></div><div style="top:728px;background:linear-gradient(90deg,#b6d4f7 0.00%,#b7d4fb 6.25%,#b7d4fe 12.50%,#b6d4fe 18.75%,#b6d4fc 25.00%,#b6d4fb 31.25%,#b6d4fb 37.50%,#b7d4fc 43.75%,#b9d4fb 50.00%,#bad4fa 56.25%,#bad3f9 62.50%,#bbd3f9 68.75%,#bdd2f8 75.00%,#bdd2f8 81.25%,#bdd3f8 87.50%,#bcd3f7 93.75%,#bbd3f7 100.00%)"></div><div style="top:736px;background:linear-gradient(90deg,#b5d3f8 0.00%,#b6d3fc 6.25%,#b6d3fe 12.50%,#b5d3fe 18.75%,#b5d4fc 25.00%,#b5d4fb 31.25%,#b4d4fc 37.50%,#b6d4fc 43.75%,#b7d4fb 50.00%,#b8d4fb 56.25%,#b8d3f9 62.50%,#b9d2f9 68.75%,#bad2f9 75.00%,#bbd2f9 81.25%,#bad3f9 87.50%,#bad3f8 93.75%,#b9d2f8 100.00%)"></div><div style="top:744px;background:linear-gradient(90deg,#b4d3f8 0.00%,#b5d3fc 6.25%,#b5d3fe 12.50%,#b4d3fe 18.75%,#b4d3fc 25.00%,#b4d3fb 31.25%,#b3d3fc 37.50%,#b4d3fc 43.75%,#b5d4fc 50.00%,#b6d4fb 56.25%,#b6d2fa 62.50%,#b7d2fa 68.75%,#b8d2fa 75.00%,#b8d2fa 81.25%,#b8d2f9 87.50%,#b7d3f8 93.75%,#b6d2f8 100.00%)"></div><div style="top:752px;background:linear-gradient(90deg,#b3d2f9 0.00%,#b4d2fc 6.25%,#b3d2fe 12.50%,#b3d3fe 18.75%,#b3d3fc 25.00%,#b3d3fb 31.25%,#b2d3fc 37.50%,#b3d3fc 43.75%,#b4d3fc 50.00%,#b4d3fc 56.25%,#b4d2fb 62.50%,#b5d2fa 68.75%,#b5d2fa 75.00%,#b5d2fa 81.25%,#b5d2fa 87.50%,#b5d3f9 93.75%,#b4d2f9 100.00%)"></div><div style="top:760px;background:linear-gradient(90deg,#b2d2f9 0.00%,#b2d2fd 6.25%,#b2d2ff 12.50%,#b2d2fe 18.75%,#b2d2fd 25.00%,#b1d2fb 31.25%,#b1d2fc 37.50%,#b1d3fd 43.75%,#b2d3fd 50.00%,#b2d3fc 56.25%,#b2d2fb 62.50%,#b3d1fb 68.75%,#b3d1fb 75.00%,#b3d1fb 81.25%,#b3d2fa 87.50%,#b2d3fa 93.75%,#b2d2f9 100.00%)"></div></div>
<div class="tw" style="left:127.34px;top:29.00px;transform:scaleX(0.6194);text-shadow:1.61px 0 0 #0a0a0a,-1.61px 0 0 #0a0a0a,0.81px 0 0 #0a0a0a,-0.81px 0 0 #0a0a0a"><span class="cap">I</span><span class="sc">NDUSTRIES</span></div>
<div class="tw" style="left:316.37px;top:29.00px;transform:scaleX(0.6140);text-shadow:1.63px 0 0 #0a0a0a,-1.63px 0 0 #0a0a0a,0.81px 0 0 #0a0a0a,-0.81px 0 0 #0a0a0a"><span class="cap">S</span><span class="sc">ERVED</span></div>
<div class="tw" style="left:447.03px;top:31.00px;transform:scaleX(0.6246);text-shadow:1.60px 0 0 #0a0a0a,-1.60px 0 0 #0a0a0a,0.80px 0 0 #0a0a0a,-0.80px 0 0 #0a0a0a"><span class="sc">BY</span></div>
<div class="tw" style="left:497.56px;top:29.00px;transform:scaleX(0.5481);text-shadow:1.82px 0 0 #0a0a0a,-1.82px 0 0 #0a0a0a,0.91px 0 0 #0a0a0a,-0.91px 0 0 #0a0a0a"><span class="cap">B</span><span class="sc">IG</span></div>
<div class="tw" style="left:557.45px;top:29.00px;transform:scaleX(0.6513);text-shadow:1.54px 0 0 #0a0a0a,-1.54px 0 0 #0a0a0a,0.77px 0 0 #0a0a0a,-0.77px 0 0 #0a0a0a"><span class="cap">D</span><span class="sc">ATA</span></div>
<div class="tw" style="left:651.50px;top:31.00px;transform:scaleX(0.6022);text-shadow:1.66px 0 0 #0a0a0a,-1.66px 0 0 #0a0a0a,0.83px 0 0 #0a0a0a,-0.83px 0 0 #0a0a0a"><span class="sc">AND</span></div>
<div class="tw" style="left:726.56px;top:29.00px;transform:scaleX(0.6397);text-shadow:1.56px 0 0 #0a0a0a,-1.56px 0 0 #0a0a0a,0.78px 0 0 #0a0a0a,-0.78px 0 0 #0a0a0a"><span class="cap">A</span><span class="sc">NALYTICS</span></div>
<div class="bar" style="top:112.50px;width:17.38px;background:#ff5cc0"></div>
<div class="lab" style="left:384.29px;top:122.00px;transform:scaleX(1.1135)">Education</div>
<div class="val" style="left:503.88px;top:123.80px;transform:scaleX(1.0)">1.2%</div>
<div class="bar" style="top:161.92px;width:24.62px;background:#0b4ab6"></div>
<div class="lab" style="left:285.29px;top:171.42px;transform:scaleX(1.1061)">Retailers/Wholesalers</div>
<div class="val" style="left:511.12px;top:173.22px;transform:scaleX(1.0)">1.7%</div>
<div class="bar" style="top:211.34px;width:27.51px;background:#ada348"></div>
<div class="lab" style="left:370.40px;top:220.84px;transform:scaleX(1.1595)">Automotive</div>
<div class="val" style="left:514.01px;top:222.64px;transform:scaleX(1.0)">1.9%</div>
<div class="bar" style="top:260.76px;width:36.20px;background:#ab673e"></div>
<div class="lab" style="left:377.36px;top:270.26px;transform:scaleX(1.1449)">Consulting</div>
<div class="val" style="left:522.65px;top:272.06px;transform:scaleX(1.05)">2.5%</div>
<div class="bar" style="top:310.18px;width:43.44px;background:#6ae6e8"></div>
<div class="lab" style="left:295.50px;top:319.68px;transform:scaleX(1.1261)">Telecommunications</div>
<div class="val" style="left:529.89px;top:321.48px;transform:scaleX(1.05)">3.0%</div>
<div class="bar" style="top:359.60px;width:57.92px;background:#ffd22e"></div>
<div class="lab" style="left:196.01px;top:369.10px;transform:scaleX(1.0871)">Financial Services and Insurance</div>
<div class="val" style="left:545.42px;top:370.90px;transform:scaleX(1.05)">4.0%</div>
<div class="bar" style="top:409.02px;width:72.40px;background:#ab1d7a"></div>
<div class="lab" style="left:372.40px;top:418.52px;transform:scaleX(1.1093)">Technology</div>
<div class="val" style="left:558.85px;top:420.32px;transform:scaleX(1.05)">5.0%</div>
<div class="bar" style="top:458.44px;width:147.70px;background:#e93021"></div>
<div class="lab" style="left:16.20px;top:467.94px;transform:scaleX(1.1042)">Government, Associations, Non-Profits, Public Service</div>
<div class="val" style="left:634.20px;top:469.74px;transform:scaleX(1.0)">10.2%</div>
<div class="bar" style="top:507.86px;width:175.21px;background:#32600f"></div>
<div class="lab" style="left:176.40px;top:517.36px;transform:scaleX(1.0996)">Consumer Durables, Non-Durables</div>
<div class="val" style="left:661.71px;top:519.16px;transform:scaleX(1.0)">12.1%</div>
<div class="bar" style="top:557.28px;width:454.67px;background:#742873"></div>
<div class="lab" style="left:83.82px;top:566.78px;transform:scaleX(1.0816)">Healthcare Products, Services, OTC Medicines</div>
<div class="val" style="left:941.12px;top:568.58px;transform:scaleX(1.05)">31.4%</div>
<div class="bar" style="top:606.70px;width:463.36px;background:#fca504"></div>
<div class="lab" style="left:146.18px;top:616.20px;transform:scaleX(1.1206)">Media, Advertising, and Entertainment</div>
<div class="val" style="left:949.81px;top:618.00px;transform:scaleX(1.05)">32.0%</div>
<div class="val" style="left:468.00px;top:655.9px;transform:scaleX(1.04);transform-origin:12.50px 0">0%</div>
<div class="val" style="left:540.40px;top:655.9px;transform:scaleX(1.04);transform-origin:12.50px 0">5%</div>
<div class="val" style="left:607.80px;top:655.9px;transform:scaleX(1.04);transform-origin:17.50px 0">10%</div>
<div class="val" style="left:680.20px;top:655.9px;transform:scaleX(1.04);transform-origin:17.50px 0">15%</div>
<div class="val" style="left:752.60px;top:655.9px;transform:scaleX(1.04);transform-origin:17.50px 0">20%</div>
<div class="val" style="left:825.00px;top:655.9px;transform:scaleX(1.04);transform-origin:17.50px 0">25%</div>
<div class="val" style="left:897.40px;top:655.9px;transform:scaleX(1.04);transform-origin:17.50px 0">30%</div>
<div class="val" style="left:969.80px;top:655.9px;transform:scaleX(1.04);transform-origin:17.50px 0">35%</div>
<div class="src" style="left:76.77px;top:711.2px;transform:scaleX(1.0331)">Source: CoinLaw.io</div>
</body></html>
